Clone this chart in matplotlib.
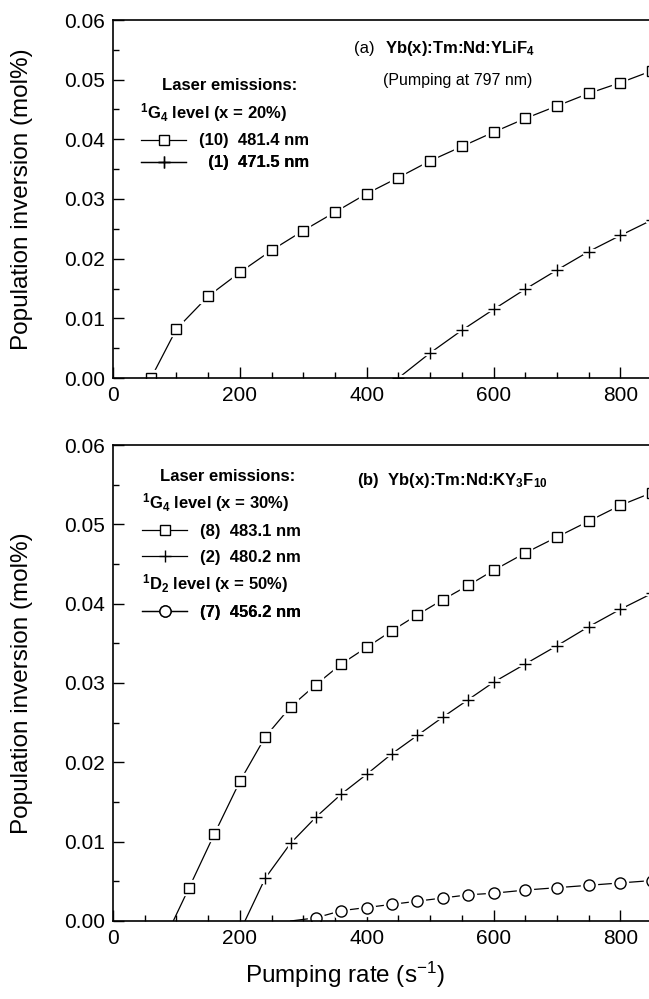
import matplotlib
matplotlib.use('Agg')
import matplotlib.pyplot as plt
from matplotlib.lines import Line2D
from matplotlib.ticker import MultipleLocator, FormatStrFormatter

plt.rcParams['font.family'] = ['Liberation Sans', 'DejaVu Sans']
plt.rcParams['mathtext.fontset'] = 'custom'
plt.rcParams['mathtext.rm'] = 'Liberation Sans'
plt.rcParams['mathtext.bf'] = 'Liberation Sans:bold'
plt.rcParams['mathtext.default'] = 'regular'

# ---------------- data ----------------
# Panel (a): Yb(x):Tm:Nd:YLiF4, 1G4 level (x = 20%)
xa_481 = [60, 100, 150, 200, 250, 300, 350, 400, 450, 500, 550, 600, 650, 700, 750, 800, 850]
ya_481 = [0.0, 0.0082, 0.0137, 0.0177, 0.0214, 0.0247, 0.0278, 0.0309, 0.0336, 0.0364,
          0.0388, 0.0412, 0.0435, 0.0456, 0.0477, 0.0495, 0.0515]
xa_471 = [450, 500, 550, 600, 650, 700, 750, 800, 850]
ya_471 = [0.0, 0.0042, 0.0080, 0.0115, 0.0149, 0.0181, 0.0212, 0.0239, 0.0265]

# Panel (b): Yb(x):Tm:Nd:KY3F10
xb_483 = [95, 120, 160, 200, 240, 280, 320, 360, 400, 440, 480, 520, 560, 600, 650, 700, 750, 800, 850]
yb_483 = [0.0, 0.0042, 0.0110, 0.0176, 0.0232, 0.0270, 0.0298, 0.0324, 0.0345, 0.0366,
          0.0386, 0.0405, 0.0423, 0.0442, 0.0464, 0.0484, 0.0504, 0.0524, 0.0540]
xb_480 = [208, 240, 280, 320, 360, 400, 440, 480, 520, 560, 600, 650, 700, 750, 800, 850]
yb_480 = [0.0, 0.0054, 0.0098, 0.0131, 0.0160, 0.0185, 0.0211, 0.0234, 0.0257, 0.0279,
          0.0301, 0.0324, 0.0347, 0.0371, 0.0393, 0.0413]
xb_456 = [280, 320, 360, 400, 440, 480, 520, 560, 600, 650, 700, 750, 800, 850]
yb_456 = [0.0, 0.0004, 0.0013, 0.0017, 0.0021, 0.0025, 0.0029, 0.0033, 0.0035, 0.0039,
          0.0042, 0.0045, 0.0048, 0.0051]

yticks = [0.00, 0.01, 0.02, 0.03, 0.04, 0.05, 0.06]
xticks = [0, 200, 400, 600, 800]

# ---------------- layout ----------------
W, H = 649, 999
fig = plt.figure(figsize=(W / 100, H / 100), dpi=100)


def axpos(l, t, r, b):
    return [l / W, 1 - b / H, (r - l) / W, (b - t) / H]


ta, ba = 20, 378
tb, bb = 445, 921
axa = fig.add_axes(axpos(113, ta, 649, ba))
axb = fig.add_axes(axpos(113, tb, 649, bb))

TICK_FS = 15
LAB_FS = 17.5
TXT_FS = 12


def style_axes(ax):
    ax.set_xlim(0, 845)
    ax.set_ylim(0, 0.06)
    ax.set_xticks(xticks)
    ax.set_yticks(yticks)
    ax.xaxis.set_minor_locator(MultipleLocator(50))
    ax.yaxis.set_minor_locator(MultipleLocator(0.005))
    ax.yaxis.set_major_formatter(FormatStrFormatter('%.2f'))
    ax.tick_params(which='both', direction='in', top=False, right=False,
                   labelsize=TICK_FS, width=1.0, pad=6)
    ax.tick_params(which='major', length=8)
    ax.tick_params(which='minor', length=4.5)
    ax.spines['right'].set_visible(False)
    for s in ('left', 'bottom', 'top'):
        ax.spines[s].set_linewidth(1.2)
        ax.spines[s].set_zorder(6)


def series(ax, x, y, marker, ms, start=0):
    ax.plot(x, y, color='black', lw=0.9, zorder=2)
    ax.plot(x, y, ls='none', marker=marker, ms=ms, mfc='white', mec='white',
            mew=4.5, markevery=slice(start, None), zorder=3)
    ax.plot(x, y, ls='none', marker=marker, ms=ms, mfc='white', mec='black',
            mew=1.0, markevery=slice(start, None), zorder=4)


def row(ax, marker, ms, label, xpx, ypx, top, bottom, left=113, right=649):
    xf = (xpx - left) / (right - left)
    yf = (bottom - ypx) / (bottom - top)
    h = Line2D([], [], color='black', lw=0.9, marker=marker, ms=ms,
               mfc='white', mec='black', mew=1.0)
    leg = ax.legend([h], [label], loc='center left', bbox_to_anchor=(xf, yf),
                    frameon=False, borderpad=0, borderaxespad=0, handlelength=2.7,
                    handletextpad=0.8, numpoints=1,
                    prop={'weight': 'bold', 'size': TXT_FS})
    ax.add_artist(leg)


def txt(ax, s, xpx, ypx, top, bottom, left=113, right=649, **kw):
    xf = (xpx - left) / (right - left)
    yf = (bottom - ypx) / (bottom - top)
    ax.text(xf, yf, s, transform=ax.transAxes, va='center', ha='left', **kw)


SQ, CR, CI = 7, 9, 8

# ---- panel a ----
style_axes(axa)
series(axa, xa_481, ya_481, 's', SQ)
series(axa, xa_471, ya_471, '+', CR)
txt(axa, '(a)', 354, 48, ta, ba, fontsize=TXT_FS)
txt(axa, r'Yb(x):Tm:Nd:YLiF$_4$', 385, 48, ta, ba, fontsize=TXT_FS, fontweight='bold')
txt(axa, '(Pumping at 797 nm)', 383, 80, ta, ba, fontsize=11.5)
txt(axa, 'Laser emissions:', 162, 86, ta, ba, fontsize=TXT_FS, fontweight='bold')
txt(axa, r'$^1$G$_4$ level (x = 20%)', 140, 113, ta, ba, fontsize=TXT_FS, fontweight='bold')
row(axa, 's', SQ, '(10)  481.4 nm', 141, 141, ta, ba)
row(axa, '+', CR, '  (1)  471.5 nm', 141, 163, ta, ba)

# ---- panel b ----
style_axes(axb)
series(axb, xb_483, yb_483, 's', SQ, start=1)
series(axb, xb_480, yb_480, '+', CR, start=1)
series(axb, xb_456, yb_456, 'o', CI, start=1)
txt(axb, r'(b)  Yb(x):Tm:Nd:KY$_3$F$_{10}$', 357, 480, tb, bb, fontsize=TXT_FS, fontweight='bold')
txt(axb, 'Laser emissions:', 160, 476, tb, bb, fontsize=TXT_FS, fontweight='bold')
txt(axb, r'$^1$G$_4$ level (x = 30%)', 142, 503, tb, bb, fontsize=TXT_FS, fontweight='bold')
row(axb, 's', SQ, '(8)  483.1 nm', 142, 531, tb, bb)
row(axb, '+', CR, '(2)  480.2 nm', 142, 557, tb, bb)
txt(axb, r'$^1$D$_2$ level (x = 50%)', 142, 584, tb, bb, fontsize=TXT_FS, fontweight='bold')
row(axb, 'o', CI, '(7)  456.2 nm', 142, 612, tb, bb)

# ---- axis labels ----
for t, b in ((ta, ba), (tb, bb)):
    fig.text(22 / W, 1 - ((t + b) / 2) / H, 'Population inversion (mol%)', rotation=90,
             ha='center', va='center', fontsize=LAB_FS)
fig.text(345 / W, 1 - 975 / H, r'Pumping rate (s$^{-1}$)', ha='center', va='center', fontsize=LAB_FS)

fig.savefig('out.png', dpi=100)
